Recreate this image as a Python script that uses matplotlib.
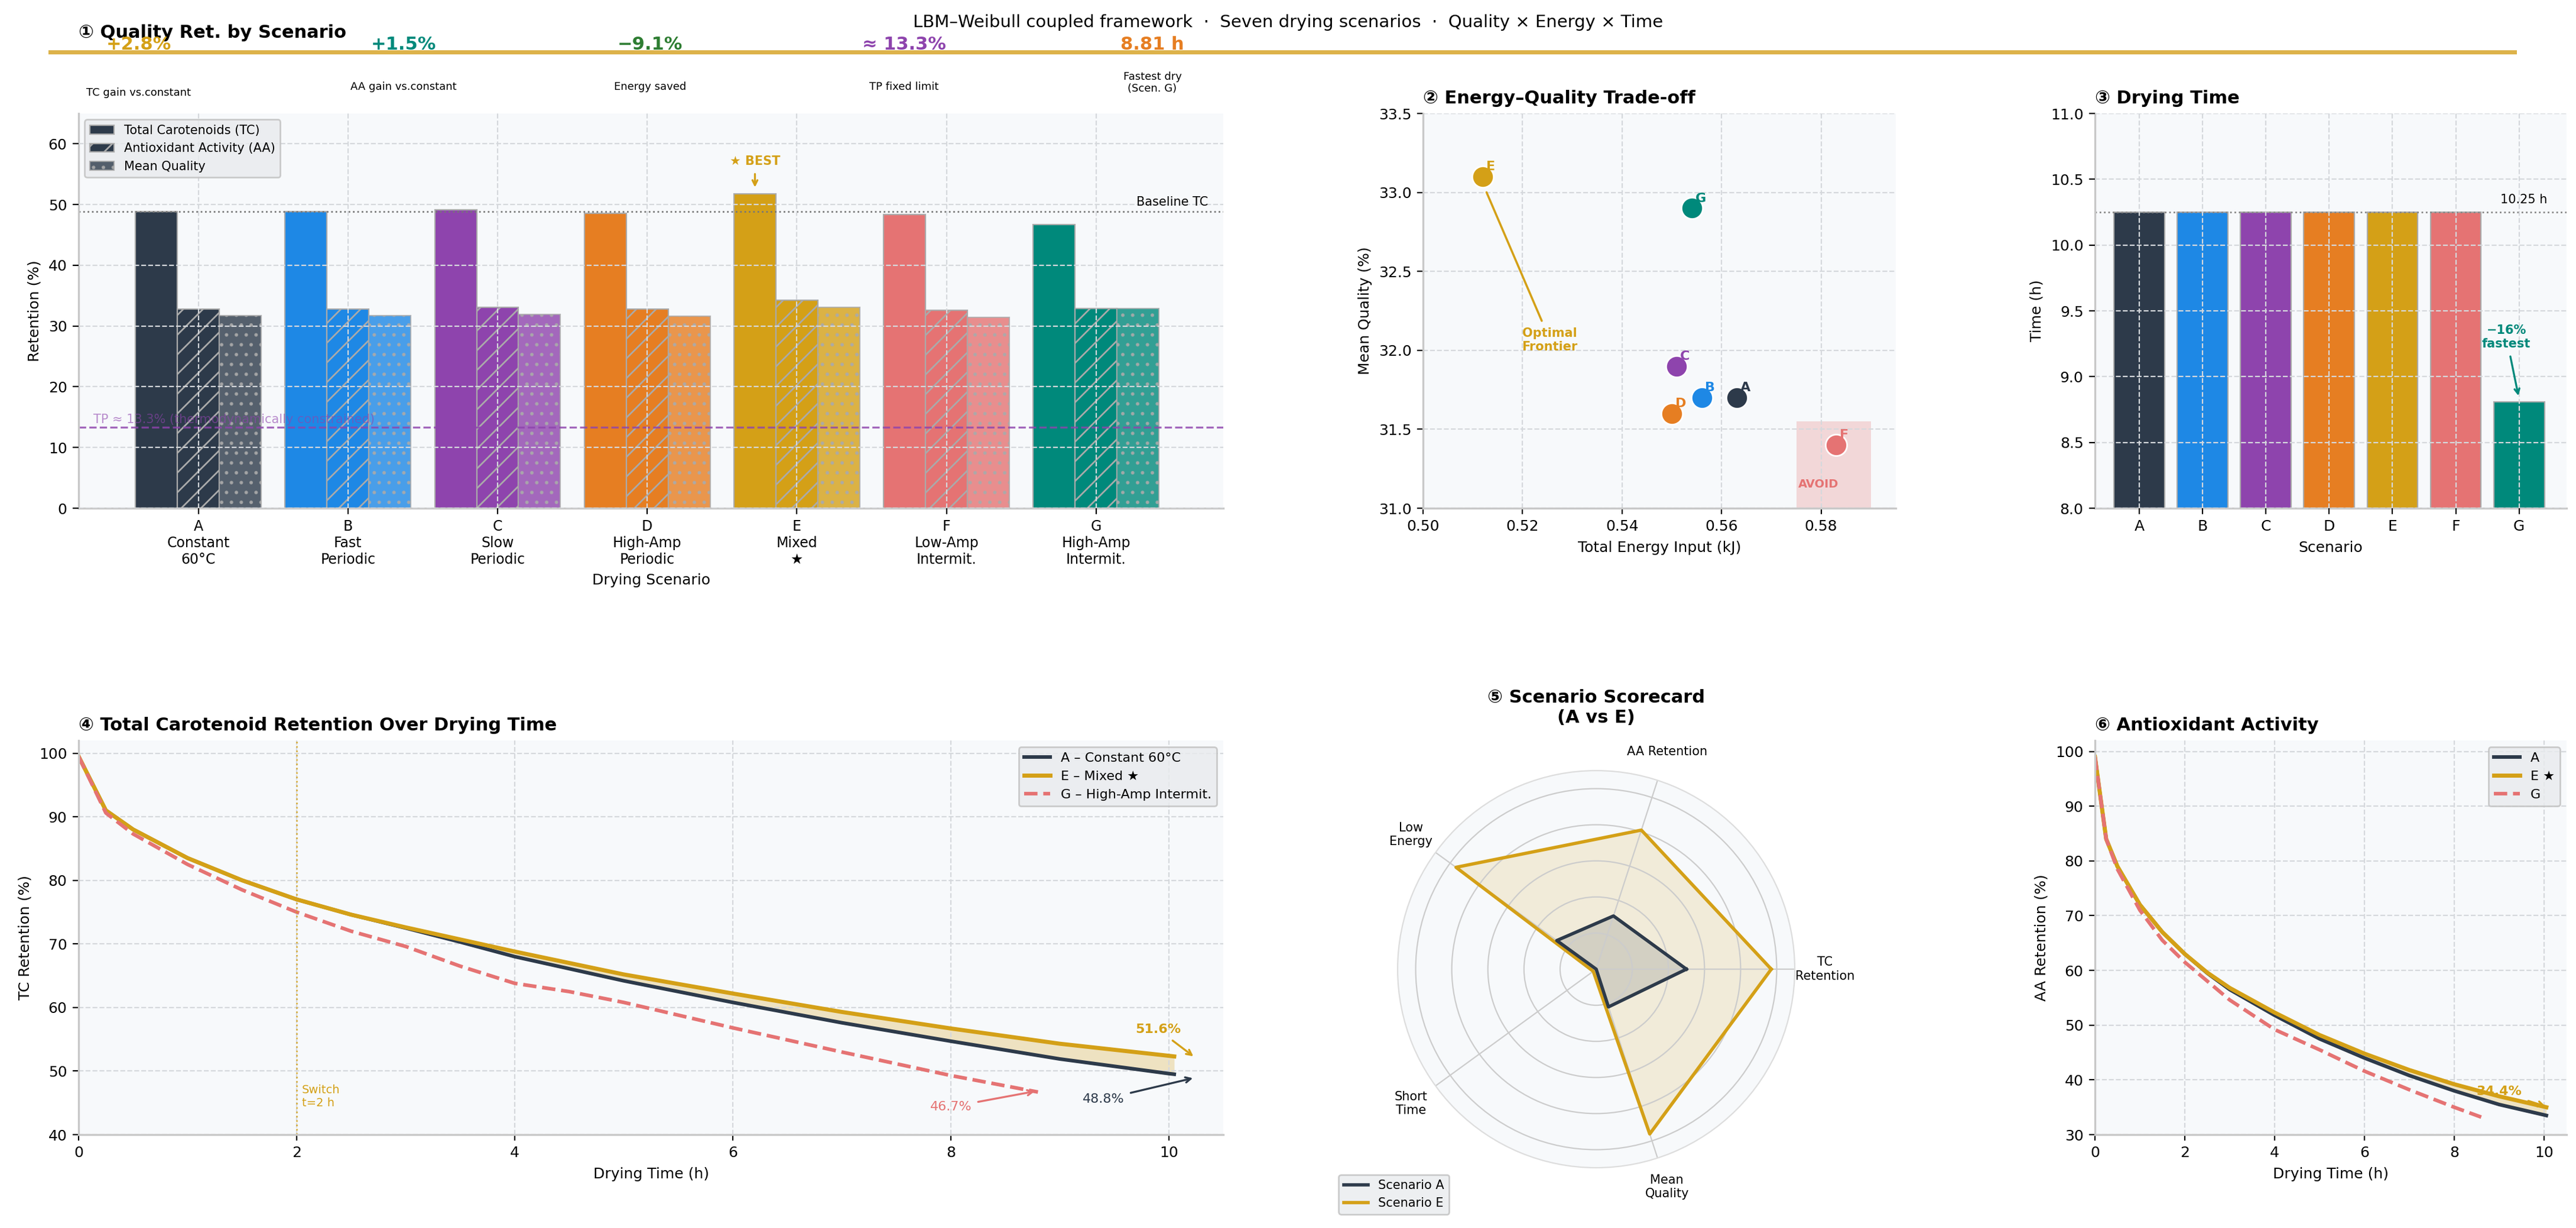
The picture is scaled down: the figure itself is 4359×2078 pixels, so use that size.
import matplotlib
matplotlib.use("Agg")
import matplotlib.pyplot as plt
import numpy as np
from matplotlib.patches import Rectangle

# ---------------- data ----------------
SCEN = ["A", "B", "C", "D", "E", "F", "G"]
SCEN_LABELS = ["A\nConstant\n60°C", "B\nFast\nPeriodic", "C\nSlow\nPeriodic", "D\nHigh-Amp\nPeriodic",
               "E\nMixed\n★", "F\nLow-Amp\nIntermit.", "G\nHigh-Amp\nIntermit."]
TC_RET = [48.8, 48.8, 49.1, 48.6, 51.8, 48.4, 46.7]
AA_RET = [32.8, 32.8, 33.1, 32.8, 34.3, 32.6, 32.9]
MEAN_Q = [31.7, 31.7, 31.9, 31.6, 33.1, 31.4, 32.9]
ENERGY = [0.563, 0.556, 0.551, 0.550, 0.512, 0.583, 0.554]
DRY_TIME = [10.25, 10.25, 10.25, 10.25, 10.25, 10.25, 8.81]
BASELINE_TC = 48.8
TP_LIMIT = 13.3

# TC retention curves
T_AE = [0, 0.25, 0.5, 1, 1.5, 2, 2.5, 3, 3.5, 4, 5, 6, 7, 8, 9, 10, 10.05]
TC_A = [99.5, 91, 88, 83.5, 80, 77, 74.6, 72.5, 70.3, 68, 64.2, 60.8, 57.6, 54.7, 51.9, 49.6, 49.5]
TC_E = [99.5, 91, 88, 83.5, 80, 77, 74.6, 72.6, 70.7, 68.8, 65.2, 62.2, 59.3, 56.7, 54.3, 52.4, 52.3]
T_G = [0, 0.25, 0.5, 1, 1.5, 2, 2.5, 3, 3.5, 4, 4.5, 5, 6, 7, 8, 8.8]
TC_G = [99.5, 90.6, 87.3, 82.5, 78.5, 75, 72, 69.6, 66.5, 63.8, 62.5, 60.8, 56.8, 53, 49.3, 46.7]

# AA retention curves
T_AA = [0, 0.25, 0.5, 1, 1.5, 2, 2.5, 3, 4, 5, 6, 7, 8, 9, 10, 10.05]
AA_A = [99, 84, 79, 72, 67, 63, 59.5, 56.5, 51.8, 47.5, 44, 40.8, 38, 35.5, 33.6, 33.5]
AA_E = [99, 84, 79, 72, 67, 63, 59.6, 56.8, 52.3, 48.2, 44.8, 41.8, 39.2, 37, 35.1, 35]
T_AA_G = [0, 0.25, 0.5, 1, 1.5, 2, 3, 4, 5, 6, 7, 8, 8.6]
AA_G = [99, 84, 78.5, 71, 65.5, 61.5, 54.6, 49.2, 45.5, 41.6, 38.2, 35, 33.2]

# radar scorecard
RADAR_AXES = ["TC\nRetention", "AA Retention", "Low\nEnergy", "Short\nTime", "Mean\nQuality"]
RADAR_A = [0.50, 0.31, 0.27, 0.0, 0.22]
RADAR_E = [0.97, 0.81, 0.96, 0.02, 0.96]

# header KPIs
KPI_VALS = ["+2.8%", "+1.5%", "\u22129.1%", "\u2248 13.3%", "8.81 h"]
KPI_CAPS = ["TC gain vs.constant", "AA gain vs.constant", "Energy saved", "TP fixed limit", "Fastest dry\n(Scen. G)"]

COLORS = ["#2d3a4a", "#1e88e5", "#8e44ad", "#e67e22", "#d4a017", "#e57373", "#00897b"]
KPI_COLORS = ["#d4a017", "#00897b", "#2e7d32", "#8e44ad", "#e67e22"]
GOLD = "#d4a017"
PANEL = "#f7f9fb"
GRID = "#d5d8dc"

W, H = 4359, 2078
fig = plt.figure(figsize=(W / 200, H / 200), dpi=200)


def ax_px(x0, y0, x1, y1, **kw):
    return fig.add_axes([x0 / W, 1 - y1 / H, (x1 - x0) / W, (y1 - y0) / H], **kw)


def style(ax):
    ax.set_facecolor(PANEL)
    for s in ["top", "right"]:
        ax.spines[s].set_visible(False)
    for s in ["left", "bottom"]:
        ax.spines[s].set_color("#c8c8c8")
        ax.spines[s].set_linewidth(1.2)
    ax.grid(True, linestyle="--", color=GRID, linewidth=0.8)
    ax.tick_params(labelsize=9)


# ---------------- header ----------------
fig.text(0.5, 1 - 38 / H, "LBM\u2013Weibull coupled framework  \u00b7  Seven drying scenarios  \u00b7  Quality \u00d7 Energy \u00d7 Time",
         ha="center", va="center", fontsize=10.5)
fig.add_artist(plt.Line2D([85 / W, 4255 / W], [1 - 88 / H] * 2, color="#ddb24a", lw=2.5))
kpi_x = [235, 683, 1100, 1530, 1950]
cap_y = [157, 147, 147, 147, 140]
for x, v, c, cap, cy in zip(kpi_x, KPI_VALS, KPI_COLORS, KPI_CAPS, cap_y):
    fig.text(x / W, 1 - 76 / H, v, ha="center", va="center", fontsize=11, fontweight="bold", color=c)
    fig.text(x / W, 1 - cy / H, cap, ha="center", va="center", fontsize=6.5)

# ---------------- 1: grouped bars ----------------
ax1 = ax_px(133, 192, 2070, 860)
style(ax1)
ax1.set_axisbelow(False)
x = np.arange(len(SCEN))
bw = 0.28
for i, c in enumerate(COLORS):
    ax1.bar(x[i] - bw, TC_RET[i], bw, color=c, edgecolor="#aaaaaa", lw=0.8,
            label="Total Carotenoids (TC)" if i == 0 else None)
    ax1.bar(x[i], AA_RET[i], bw, color=c, edgecolor="#aaaaaa", hatch="//", lw=0.8,
            label="Antioxidant Activity (AA)" if i == 0 else None)
    ax1.bar(x[i] + bw, MEAN_Q[i], bw, color=c, alpha=0.8, edgecolor="#aaaaaa", hatch="..", lw=0.8,
            label="Mean Quality" if i == 0 else None)
plt.rcParams["hatch.color"] = "#aaaaaa"
ax1.axhline(BASELINE_TC, color="#777777", ls=":", lw=1)
ax1.text(6.75, BASELINE_TC + 0.6, "Baseline TC", ha="right", va="bottom", fontsize=7.5)
ax1.axhline(TP_LIMIT, color="#8e44ad", ls="--", lw=1.2, alpha=0.8)
ax1.text(-0.7, TP_LIMIT + 0.3, "TP \u2248 13.3% (thermodynamically constrained)", fontsize=7.5,
         color="#8e44ad", alpha=0.6, va="bottom")
ax1.annotate("\u2605 BEST", xy=(4 - bw, TC_RET[4] + 0.5), xytext=(4 - bw, 56.5), ha="center",
             fontsize=7.5, fontweight="bold", color=GOLD,
             arrowprops=dict(arrowstyle="->", color=GOLD, lw=1.2))
ax1.set_xlim(-0.8, 6.85)
ax1.set_ylim(0, 65)
ax1.set_xticks(x)
ax1.set_xticklabels(SCEN_LABELS, fontsize=8.5)
ax1.set_ylabel("Retention (%)", fontsize=9)
ax1.set_xlabel("Drying Scenario", fontsize=9)
ax1.set_title("\u2460 Quality Ret. by Scenario", loc="left", fontsize=11, fontweight="bold", pad=46)
ax1.legend(loc="upper left", fontsize=7.5, frameon=True, facecolor="#e9ebee", edgecolor="#c0c0c0")

# ---------------- 2: scatter ----------------
ax2 = ax_px(2408, 192, 3208, 860)
style(ax2)
ax2.add_patch(Rectangle((0.575, 31.0), 0.015, 0.55, color="#e57373", alpha=0.25, lw=0))
ax2.text(0.5795, 31.13, "AVOID", color="#e57373", fontsize=7, fontweight="bold", ha="center")
for i, s in enumerate(SCEN):
    ax2.scatter(ENERGY[i], MEAN_Q[i], s=170, color=COLORS[i], edgecolor="white", lw=1, zorder=3)
    ax2.text(ENERGY[i] + 0.0007, MEAN_Q[i] + 0.04, s, color=COLORS[i], fontsize=8,
             fontweight="bold", zorder=4)
ax2.annotate("Optimal\nFrontier", xy=(0.5125, 33.02), xytext=(0.5255, 32.0), ha="center",
             fontsize=7.5, fontweight="bold", color=GOLD,
             arrowprops=dict(arrowstyle="-", color=GOLD, lw=1.3))
ax2.set_xlim(0.50, 0.595)
ax2.set_ylim(31.0, 33.5)
ax2.set_xticks([0.50, 0.52, 0.54, 0.56, 0.58])
ax2.set_xlabel("Total Energy Input (kJ)", fontsize=9)
ax2.set_ylabel("Mean Quality (%)", fontsize=9)
ax2.set_title("\u2461 Energy\u2013Quality Trade-off", loc="left", fontsize=11, fontweight="bold")

# ---------------- 3: drying time ----------------
ax3 = ax_px(3545, 192, 4343, 860)
style(ax3)
ax3.set_axisbelow(False)
ax3.bar(x, DRY_TIME, 0.8, color=COLORS, edgecolor="#aaaaaa", lw=0.8)
ax3.axhline(10.25, color="#888888", ls=":", lw=1)
ax3.text(6.45, 10.3, "10.25 h", ha="right", va="bottom", fontsize=7.5)
ax3.annotate("\u221216%\nfastest", xy=(6, 8.83), xytext=(5.8, 9.3), ha="center", va="center",
             fontsize=7.5, fontweight="bold", color="#00897b",
             arrowprops=dict(arrowstyle="->", color="#00897b", lw=1.2))
ax3.set_xlim(-0.7, 6.75)
ax3.set_ylim(8, 11)
ax3.set_xticks(x)
ax3.set_xticklabels(SCEN)
ax3.set_xlabel("Scenario", fontsize=9)
ax3.set_ylabel("Time (h)", fontsize=9)
ax3.set_title("\u2462 Drying Time", loc="left", fontsize=11, fontweight="bold")

# ---------------- 4: TC curves ----------------
ax4 = ax_px(133, 1253, 2070, 1920)
style(ax4)
ax4.fill_between(T_AE, TC_A, TC_E, color=GOLD, alpha=0.25, lw=0)
ax4.plot(T_AE, TC_A, color=COLORS[0], lw=2.2, label="A \u2013 Constant 60\u00b0C")
ax4.plot(T_AE, TC_E, color=GOLD, lw=2.5, label="E \u2013 Mixed \u2605")
ax4.plot(T_G, TC_G, color=COLORS[5], lw=2.2, ls="--", label="G \u2013 High-Amp Intermit.")
ax4.axvline(2, color=GOLD, ls=":", lw=1, alpha=0.8)
ax4.text(2.05, 46, "Switch\nt=2 h", color=GOLD, fontsize=7, va="center")
ax4.annotate("51.6%", xy=(10.25, 52), xytext=(9.9, 56), ha="center", fontsize=8, fontweight="bold",
             color=GOLD, arrowprops=dict(arrowstyle="->", color=GOLD, lw=1.2))
ax4.annotate("48.8%", xy=(10.25, 49), xytext=(9.4, 45), ha="center", fontsize=8,
             color=COLORS[0], arrowprops=dict(arrowstyle="->", color=COLORS[0], lw=1.2))
ax4.annotate("46.7%", xy=(8.8, 46.9), xytext=(8.0, 43.8), ha="center", fontsize=8,
             color=COLORS[5], arrowprops=dict(arrowstyle="->", color=COLORS[5], lw=1.2))
ax4.set_xlim(0, 10.5)
ax4.set_ylim(40, 102)
ax4.set_xlabel("Drying Time (h)", fontsize=9)
ax4.set_ylabel("TC Retention (%)", fontsize=9)
ax4.set_title("\u2463 Total Carotenoid Retention Over Drying Time", loc="left", fontsize=11, fontweight="bold")
ax4.legend(loc="upper right", fontsize=8, facecolor="#e9ebee", edgecolor="#c0c0c0")

# ---------------- 5: radar ----------------
ax5 = ax_px(2365, 1304, 3037, 1976, projection="polar")
ax5.set_facecolor(PANEL)
ang = np.linspace(0, 2 * np.pi, len(RADAR_AXES), endpoint=False)
angc = np.concatenate([ang, ang[:1]])
ra = np.array(RADAR_A + RADAR_A[:1])
re = np.array(RADAR_E + RADAR_E[:1])
ax5.fill(angc, re, color=GOLD, alpha=0.15)
ax5.plot(angc, re, color=GOLD, lw=2)
ax5.fill(angc, ra, color=COLORS[0], alpha=0.15)
ax5.plot(angc, ra, color=COLORS[0], lw=2)
ax5.set_ylim(0, 1.1)
ax5.set_yticks([0.2, 0.4, 0.6, 0.8, 1.0])
ax5.set_yticklabels([])
ax5.set_xticks(ang)
ax5.set_xticklabels(RADAR_AXES, fontsize=7.5)
ax5.tick_params(pad=8)
ax5.grid(color="#cccccc", lw=0.8)
ax5.spines["polar"].set_color("#dddddd")
ax5.set_title("\u2464 Scenario Scorecard\n(A vs E)", fontsize=11, fontweight="bold", pad=14)
ax5.legend(["_", "Scenario A", "_", "Scenario E"][:0] or None, frameon=False) if False else None
from matplotlib.lines import Line2D
fig.legend([Line2D([], [], color=COLORS[0], lw=2), Line2D([], [], color=GOLD, lw=2)],
           ["Scenario A", "Scenario E"], loc="lower left", bbox_to_anchor=(2255 / W, 1 - 2065 / H),
           fontsize=7.5, facecolor="#e9ebee", edgecolor="#c0c0c0")

# ---------------- 6: AA curves ----------------
ax6 = ax_px(3545, 1253, 4343, 1920)
style(ax6)
ax6.fill_between(T_AA, AA_A, AA_E, color=GOLD, alpha=0.25, lw=0)
ax6.plot(T_AA, AA_A, color=COLORS[0], lw=2.2, label="A")
ax6.plot(T_AA, AA_E, color=GOLD, lw=2.5, label="E \u2605")
ax6.plot(T_AA_G, AA_G, color=COLORS[5], lw=2.2, ls="--", label="G")
ax6.annotate("34.4%", xy=(10.1, 35), xytext=(9.0, 37.2), ha="center", fontsize=8, fontweight="bold",
             color=GOLD, arrowprops=dict(arrowstyle="->", color=GOLD, lw=1.2))
ax6.set_xlim(0, 10.5)
ax6.set_ylim(30, 102)
ax6.set_xlabel("Drying Time (h)", fontsize=9)
ax6.set_ylabel("AA Retention (%)", fontsize=9)
ax6.set_title("\u2465 Antioxidant Activity", loc="left", fontsize=11, fontweight="bold")
ax6.legend(loc="upper right", fontsize=8, facecolor="#e9ebee", edgecolor="#c0c0c0")

fig.savefig("out.png", dpi=200, facecolor="white")
